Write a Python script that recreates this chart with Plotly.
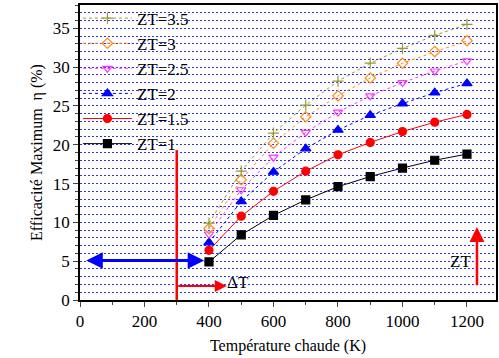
import plotly.graph_objects as go

# Hot-side temperature (K)
temperature = [400, 500, 600, 700, 800, 900, 1000, 1100, 1200]

# Maximum efficiency (%) for each figure of merit ZT
eta_zt1 = [4.9, 8.4, 10.9, 12.9, 14.6, 15.9, 17.0, 18.0, 18.8]
eta_zt15 = [6.4, 10.8, 14.0, 16.6, 18.7, 20.3, 21.7, 22.9, 23.9]
eta_zt2 = [7.4, 12.7, 16.5, 19.5, 21.9, 23.8, 25.3, 26.7, 27.9]
eta_zt25 = [8.5, 14.2, 18.4, 21.6, 24.2, 26.3, 28.0, 29.5, 30.8]
eta_zt3 = [9.2, 15.5, 20.2, 23.6, 26.3, 28.6, 30.5, 32.0, 33.4]
eta_zt35 = [9.9, 16.6, 21.5, 25.1, 28.2, 30.5, 32.4, 34.1, 35.5]

series_labels = ["ZT=1", "ZT=1.5", "ZT=2", "ZT=2.5", "ZT=3", "ZT=3.5"]

x_ticks = [0, 200, 400, 600, 800, 1000, 1200]
y_ticks = [0, 5, 10, 15, 20, 25, 30, 35]

# Annotation geometry (data units)
cold_temp = 300
cold_line_top = 19.3
dt_arrow_y = 1.8
dt_arrow_end = 455
eta_arrow_y = 5.1
eta_arrow_x = [15, 385]
zt_arrow_x = 1231
zt_arrow_y = [1.7, 9.4]

serif = "Liberation Serif"

styles = [
    dict(color="black", dash="solid", symbol="square", size=8),
    dict(color="red", dash="solid", symbol="circle", size=8),
    dict(color="blue", dash="dot", symbol="triangle-up", size=9),
    dict(color="#ff33ff", dash="dot", symbol="triangle-down-open", size=8),
    dict(color="#ff8c1a", dash="dot", symbol="diamond-open", size=8),
    dict(color="#999933", dash="dot", symbol="cross-thin-open", size=8),
]
values = [eta_zt1, eta_zt15, eta_zt2, eta_zt25, eta_zt3, eta_zt35]

fig = go.Figure()
for label, vals, st in zip(series_labels, values, styles):
    fig.add_trace(go.Scatter(
        x=temperature, y=vals, name=label, mode="lines+markers",
        line=dict(color=st["color"], width=1, dash=st["dash"]),
        marker=dict(symbol=st["symbol"], size=st["size"], color=st["color"],
                    line=dict(color=st["color"], width=1.2)),
    ))

# Cold-side temperature marker line
fig.add_shape(type="line", x0=cold_temp, x1=cold_temp, y0=0, y1=cold_line_top,
              xref="x", yref="y", line=dict(color="red", width=2.5))

annotations = [
    # ΔT arrow
    dict(x=dt_arrow_end, y=dt_arrow_y, ax=cold_temp, ay=dt_arrow_y,
         xref="x", yref="y", axref="x", ayref="y", text="", showarrow=True,
         arrowhead=2, arrowsize=1.2, arrowwidth=2, arrowcolor="red"),
    dict(x=490, y=2.3, xref="x", yref="y", text="ΔT", showarrow=False,
         font=dict(family=serif, size=17, color="black")),
    # efficiency double arrow
    dict(x=eta_arrow_x[1], y=eta_arrow_y, ax=eta_arrow_x[0], ay=eta_arrow_y,
         xref="x", yref="y", axref="x", ayref="y", text="", showarrow=True,
         arrowhead=2, startarrowhead=2, arrowside="end+start", arrowsize=1.1,
         startarrowsize=1.1, arrowwidth=3, arrowcolor="blue"),
    # ZT arrow
    dict(x=zt_arrow_x, y=zt_arrow_y[1], ax=zt_arrow_x, ay=zt_arrow_y[0],
         xref="x", yref="y", axref="x", ayref="y", text="", showarrow=True,
         arrowhead=2, arrowsize=1.2, arrowwidth=2.5, arrowcolor="red"),
    dict(x=1180, y=5.0, xref="x", yref="y", text="ZT", showarrow=False,
         font=dict(family=serif, size=17, color="black")),
]

grid_dash = "2px,2px"

fig.update_layout(
    width=499, height=358,
    margin=dict(l=80, r=1, t=5, b=58),
    paper_bgcolor="white", plot_bgcolor="white",
    font=dict(family=serif, size=16, color="black"),
    showlegend=True,
    legend=dict(x=-0.005, y=1.015, xanchor="left", yanchor="top",
                bgcolor="rgba(0,0,0,0)", traceorder="reversed",
                font=dict(family=serif, size=17), itemwidth=49,
                tracegroupgap=0),
    annotations=annotations,
    xaxis=dict(
        range=[0, 1290], tickvals=x_ticks, ticks="outside", ticklen=5,
        showline=True, linecolor="black", linewidth=1.5, mirror=True,
        showgrid=False, zeroline=False,
        minor=dict(dtick=100, tick0=0, ticks="outside", ticklen=3, showgrid=False),
        title=dict(text="Température chaude (K)", font=dict(family=serif, size=16), standoff=10),
        tickfont=dict(family=serif, size=17),
    ),
    yaxis=dict(
        range=[0, 38], tickvals=y_ticks, ticks="outside", ticklen=5,
        showline=True, linecolor="black", linewidth=1.5, mirror=True,
        showgrid=True, gridcolor="#3030ff", griddash=grid_dash, gridwidth=1,
        zeroline=False,
        minor=dict(dtick=1, tick0=0, ticks="outside", ticklen=3, showgrid=True,
                   gridcolor="#3030ff", griddash=grid_dash, gridwidth=1),
        title=dict(text="Efficacité Maximum\u00a0\u00a0η (%)", font=dict(family=serif, size=16), standoff=6),
        tickfont=dict(family=serif, size=17),
    ),
)

fig.write_html("out.html")
